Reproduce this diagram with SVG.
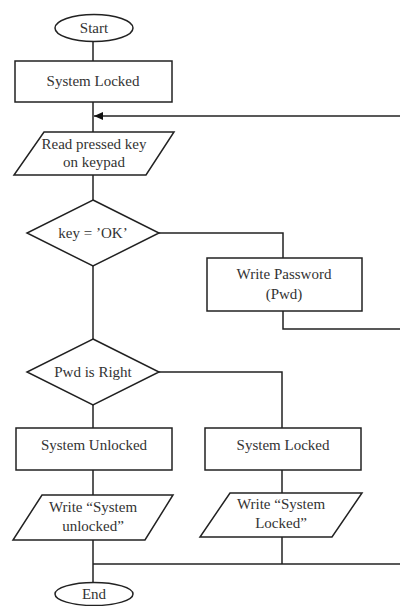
<svg xmlns="http://www.w3.org/2000/svg" width="400" height="606" viewBox="0 0 400 606">
<style>
.s{fill:#fff;stroke:#222;stroke-width:1.5}
.c{fill:none;stroke:#222;stroke-width:1.5}
text{font-family:"Liberation Serif","Times New Roman",serif;font-size:15px;fill:#333;text-anchor:middle}
</style>
<defs>
<marker id="ah" markerWidth="10" markerHeight="8" refX="9" refY="4" orient="auto" markerUnits="userSpaceOnUse">
<path d="M0,0 L9,4 L0,8 Z" fill="#111"/>
</marker>
</defs>
<g id="connectors">
<path class="c" d="M93,42 V61"/>
<path class="c" d="M93,102 V132"/>
<path class="c" d="M400,116 H94" marker-end="url(#ah)"/>
<path class="c" d="M93,175 V200"/>
<path class="c" d="M93,266 V339"/>
<path class="c" d="M159,233 H283 V258"/>
<path class="c" d="M283,311 V329 H400"/>
<path class="c" d="M93,405 V428"/>
<path class="c" d="M159,372 H282 V428"/>
<path class="c" d="M93,470 V495"/>
<path class="c" d="M282,470 V493"/>
<path class="c" d="M93,540 V583"/>
<path class="c" d="M282,537 V564"/>
<path class="c" d="M93,564 H400"/>
</g>
<g id="start">
<ellipse class="s" cx="94" cy="28" rx="39" ry="13.5"/>
<text x="94" y="33">Start</text>
</g>
<g id="locked1">
<rect class="s" x="15" y="61" width="157" height="41"/>
<text x="93" y="86">System Locked</text>
</g>
<g id="read">
<polygon class="s" points="44,132 174,132 146,175 14,175"/>
<text x="94" y="149">Read pressed key</text>
<text x="94" y="167">on keypad</text>
</g>
<g id="keyok">
<polygon class="s" points="93,200 159,233 93,266 27,233"/>
<text x="93" y="238">key = ’OK’</text>
</g>
<g id="writepwd">
<rect class="s" x="207" y="258" width="155" height="53"/>
<text x="284" y="279">Write Password</text>
<text x="284" y="299">(Pwd)</text>
</g>
<g id="pwdright">
<polygon class="s" points="93,339 159,372 93,405 27,372"/>
<text x="93" y="377">Pwd is Right</text>
</g>
<g id="unlocked">
<rect class="s" x="16" y="428" width="156" height="42"/>
<text x="94" y="450">System Unlocked</text>
</g>
<g id="locked2">
<rect class="s" x="205" y="428" width="156" height="42"/>
<text x="283" y="450">System Locked</text>
</g>
<g id="writeunlocked">
<polygon class="s" points="42,495 173,495 145,540 13,540"/>
<text x="93" y="512">Write “System</text>
<text x="93" y="531">unlocked”</text>
</g>
<g id="writelocked">
<polygon class="s" points="230,493 362,493 332,537 200,537"/>
<text x="281" y="509">Write “System</text>
<text x="281" y="528">Locked”</text>
</g>
<g id="end">
<ellipse class="s" cx="94" cy="594" rx="39" ry="11.5"/>
<text x="94" y="599">End</text>
</g>
</svg>
